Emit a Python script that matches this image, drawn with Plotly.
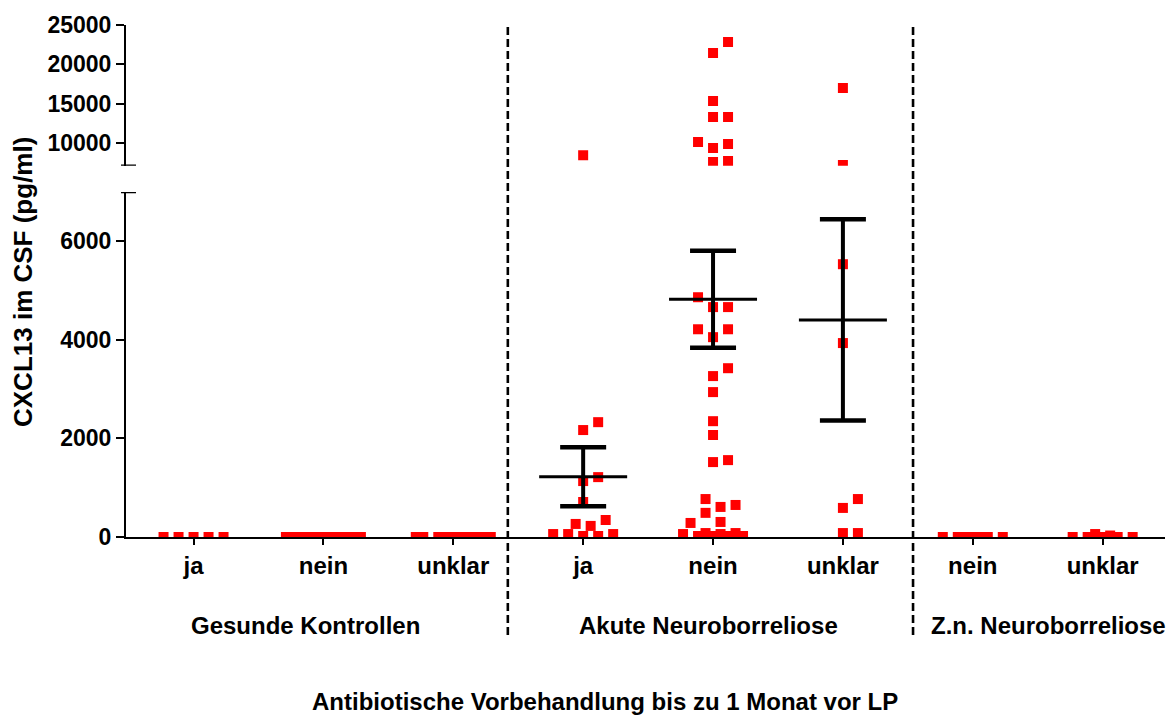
import numpy as np
import plotly.graph_objects as go

# ---------------------------------------------------------------------------
# Data: CXCL13 in CSF (pg/ml) per study group and antibiotic pre-treatment
# ---------------------------------------------------------------------------
categories = ["ja", "nein", "unklar", "ja", "nein", "unklar", "nein", "unklar"]
group_labels = ["Gesunde Kontrollen", "Akute Neuroborreliose", "Z.n. Neuroborreliose"]

gk_ja = [0, 0, 0, 0, 0]
gk_nein = [0, 0, 0, 0, 0, 0, 0, 0, 0, 0, 0]
gk_unklar = [0, 0, 0, 0, 0, 0, 0, 0, 0, 0]
an_ja = [8500, 2330, 2170, 1215, 1135, 710, 345, 265, 225, 60, 60, 60, 20, 20]
an_nein = [22840, 21450, 15360, 13330, 13330, 10160, 9910, 9400, 7760, 7630,
           4865, 4665, 4665, 4215, 4215, 4055, 3425, 3265, 2940, 2350, 2070,
           1560, 1520, 770, 650, 610, 490, 305, 285, 80, 80, 60, 60, 20, 20, 20, 20]
an_unklar = [17000, 7250, 5535, 3935, 770, 590, 80, 80]
zn_nein = [0, 0, 0, 0, 0, 0, 0]
zn_unklar = [0, 0, 0, 0, 0, 30, 60]

groups = [gk_ja, gk_nein, gk_unklar, an_ja, an_nein, an_unklar, zn_nein, zn_unklar]
# mean +/- SEM is shown for the acute neuroborreliosis columns
with_sem = [False, False, False, True, True, True, False, False]

lower_ticks = [0, 2000, 4000, 6000]
upper_ticks = [10000, 15000, 20000, 25000]

# ---------------------------------------------------------------------------
# Layout geometry (broken y axis: two stacked axes)
# ---------------------------------------------------------------------------
W, H = 1171, 717
M_L, M_R, M_T, M_B = 126, 6, 25, 180
PLOT_W = W - M_L - M_R
PLOT_H = H - M_T - M_B

X_RANGE = [-0.52, 7.48]
BREAK = 7000
LOW_RANGE = [0, 7000]
LOW_DOMAIN = [0, 0.6738]
HIGH_RANGE = [7160, 25000]
HIGH_DOMAIN = [0.7252, 1.0]
SEPARATORS = [2.42, 5.54]
GROUP_LABEL_X = [0.86, 3.965, 6.58]

PX_PER_X = PLOT_W / (X_RANGE[1] - X_RANGE[0])
FONT = "Liberation Sans, Arial, sans-serif"
RED = "#ff0000"
MARKER = 10


def y_pixel(v):
    if v <= BREAK:
        dom, rng = LOW_DOMAIN, LOW_RANGE
    else:
        dom, rng = HIGH_DOMAIN, HIGH_RANGE
    frac = dom[0] + (v - rng[0]) / (rng[1] - rng[0]) * (dom[1] - dom[0])
    return M_T + PLOT_H * (1 - frac)


def swarm_offsets(vals, half_w, step=7.5, mx=10.0, my=12.0):
    """Greedy column-scatter layout: offsets in pixels, minimal overlap."""
    cands = [0.0]
    k = 1
    while k * step <= half_w + 1e-9:
        cands += [k * step, -k * step]
        k += 1
    order = np.argsort(vals, kind="stable")
    placed = []
    offs = np.zeros(len(vals))
    for i in order:
        py = y_pixel(vals[i])
        best, best_key = 0.0, None
        for c in cands:
            cost = 0.0
            for dx, qy in placed:
                ox = mx - abs(c - dx)
                oy = my - abs(py - qy)
                if ox > 0 and oy > 0:
                    cost += ox * oy
            key = (round(cost, 6), abs(c), c < 0)
            if best_key is None or key < best_key:
                best, best_key = c, key
        offs[i] = best
        placed.append((best, py))
    return offs


half_widths = [30, 37.5, 37.5, 30, 30, 30, 30, 30]

xs_lo, ys_lo, xs_hi, ys_hi = [], [], [], []
for gi, vals in enumerate(groups):
    offs = swarm_offsets(vals, half_widths[gi])
    for v, o in zip(vals, offs):
        x = gi + o / PX_PER_X
        if v > BREAK:
            xs_hi.append(x)
            ys_hi.append(v)
        else:
            xs_lo.append(x)
            ys_lo.append(v)

fig = go.Figure()
marker = dict(symbol="square", size=MARKER, color=RED, line=dict(width=0))
fig.add_trace(go.Scatter(x=xs_lo, y=ys_lo, mode="markers", marker=marker,
                         xaxis="x", yaxis="y", showlegend=False))
fig.add_trace(go.Scatter(x=xs_hi, y=ys_hi, mode="markers", marker=marker,
                         xaxis="x", yaxis="y2", showlegend=False))

shapes = []
# mean and SEM bars
MEAN_HALF = 44 / PX_PER_X
CAP_HALF = 23 / PX_PER_X
for gi, vals in enumerate(groups):
    if not with_sem[gi]:
        continue
    arr = np.asarray(vals, dtype=float)
    mean = arr.mean()
    sem = arr.std(ddof=1) / np.sqrt(len(arr))
    blk = dict(color="black")
    shapes.append(dict(type="line", xref="x", yref="y", x0=gi, x1=gi,
                       y0=mean - sem, y1=mean + sem, line=dict(blk, width=4)))
    for yy in (mean - sem, mean + sem):
        shapes.append(dict(type="line", xref="x", yref="y", x0=gi - CAP_HALF,
                           x1=gi + CAP_HALF, y0=yy, y1=yy, line=dict(blk, width=4.5)))
    shapes.append(dict(type="line", xref="x", yref="y", x0=gi - MEAN_HALF,
                       x1=gi + MEAN_HALF, y0=mean, y1=mean, line=dict(blk, width=3)))

# dashed group separators
sep_bottom = (M_T + PLOT_H - 635) / PLOT_H
for sx in SEPARATORS:
    shapes.append(dict(type="line", xref="x", yref="paper", x0=sx, x1=sx,
                       y0=sep_bottom, y1=0.996,
                       line=dict(color="black", width=2.6, dash="8px,4px")))

# end caps at the axis break
cap_l, cap_r = -5 / PLOT_W, 10 / PLOT_W
shapes.append(dict(type="line", xref="paper", yref="y", x0=cap_l, x1=cap_r,
                   y0=LOW_RANGE[1], y1=LOW_RANGE[1], line=dict(color="black", width=2.5)))
shapes.append(dict(type="line", xref="paper", yref="y2", x0=cap_l, x1=cap_r,
                   y0=HIGH_RANGE[0], y1=HIGH_RANGE[0], line=dict(color="black", width=2.5)))

annotations = []
lab_y = (M_T + PLOT_H - 625) / PLOT_H
for gx, text in zip(GROUP_LABEL_X, group_labels):
    annotations.append(dict(text=text, x=gx, xref="x", y=lab_y, yref="paper",
                            showarrow=False, xanchor="center", yanchor="middle",
                            font=dict(family=FONT, size=24, color="black", weight="bold")))
annotations.append(dict(text="Antibiotische Vorbehandlung bis zu 1 Monat vor LP",
                        x=(605 - M_L) / PLOT_W, xref="paper",
                        y=(M_T + PLOT_H - 701) / PLOT_H, yref="paper",
                        showarrow=False, xanchor="center", yanchor="middle",
                        font=dict(family=FONT, size=24, color="black", weight="bold")))
annotations.append(dict(text="CXCL13 im CSF (pg/ml)", textangle=-90,
                        x=(23 - M_L) / PLOT_W, xref="paper",
                        y=(M_T + PLOT_H - 282) / PLOT_H, yref="paper",
                        showarrow=False, xanchor="center", yanchor="middle",
                        font=dict(family=FONT, size=26, color="black", weight="bold")))

axis_common = dict(showgrid=False, zeroline=False, showline=True, linewidth=2,
                   linecolor="black", ticks="outside", tickwidth=2,
                   tickcolor="black", layer="below traces")
tickfont = dict(family=FONT, size=23, color="black", weight="bold")

fig.update_layout(
    width=W, height=H,
    margin=dict(l=M_L, r=M_R, t=M_T, b=M_B, autoexpand=False),
    paper_bgcolor="white", plot_bgcolor="white",
    xaxis=dict(axis_common, range=X_RANGE, tickvals=list(range(len(categories))),
               ticktext=categories, ticklen=6, anchor="y",
               tickfont=dict(tickfont, size=24)),
    yaxis=dict(axis_common, range=LOW_RANGE, domain=LOW_DOMAIN, tickvals=lower_ticks,
               ticktext=[str(t) for t in lower_ticks],
               ticklen=8, tickfont=tickfont, anchor="x"),
    yaxis2=dict(axis_common, range=HIGH_RANGE, domain=HIGH_DOMAIN, tickvals=upper_ticks,
                ticktext=[str(t) for t in upper_ticks],
                ticklen=8, tickfont=tickfont, anchor="x"),
    shapes=shapes,
    annotations=annotations,
    showlegend=False,
)

fig.write_html("out.html")
